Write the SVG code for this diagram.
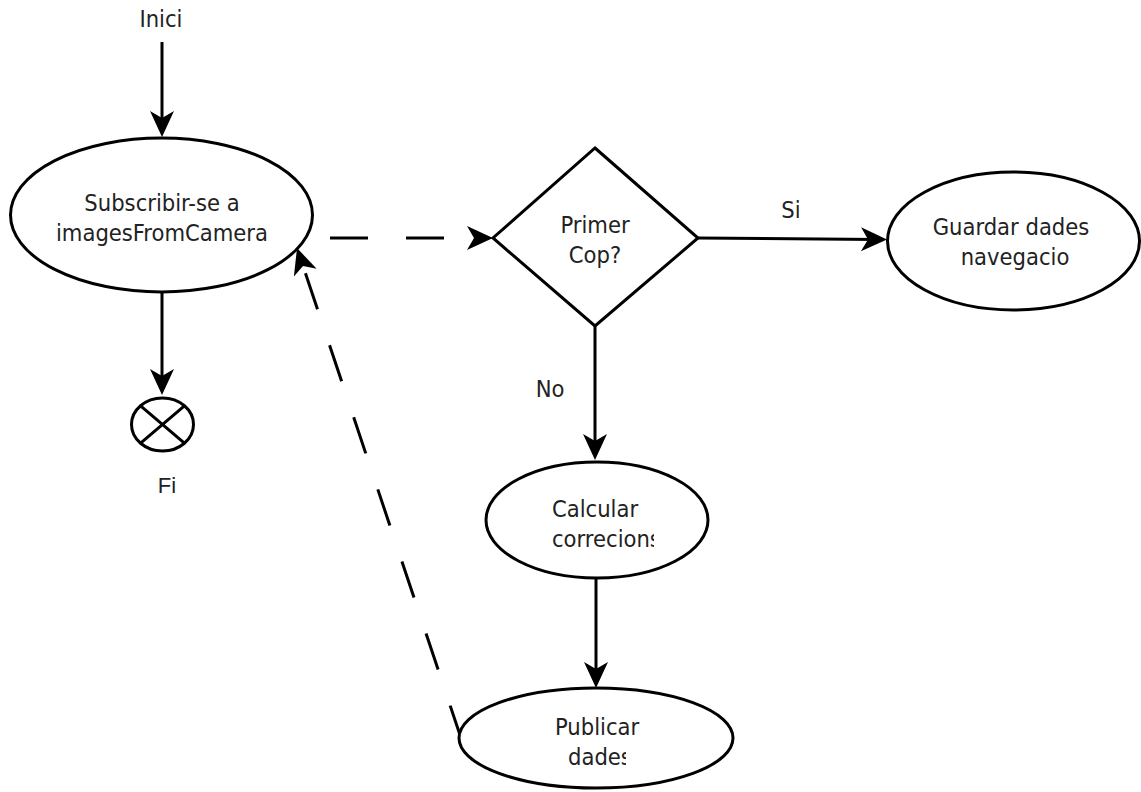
<svg xmlns="http://www.w3.org/2000/svg" width="1141" height="792" viewBox="0 0 1141 792">
  <style>
    .shape { fill: #ffffff; stroke: #000000; stroke-width: 3; }
    .edge { fill: none; stroke: #000000; stroke-width: 3; }
    .dashed { stroke-dasharray: 38 38; }
    .label { font-family: "DejaVu Sans Condensed", "DejaVu Sans", Verdana, sans-serif; font-stretch: condensed; font-size: 23.5px; fill: #222222; text-anchor: middle; }
    .start { text-anchor: start; }
    .fi { font-family: "Liberation Sans", Arial, sans-serif; font-size: 22px; fill: #222222; text-anchor: middle; }
  </style>
  <defs>
    <marker id="arrow" markerUnits="userSpaceOnUse" viewBox="-28 -14 30 28" markerWidth="30" markerHeight="28" refX="-10" refY="0" orient="auto">
      <path d="M0,0 L-26,-12 L-19,0 L-26,12 Z" fill="#000000"/>
    </marker>
    <clipPath id="clip-correcions"><rect x="480" y="525" width="174" height="40"/></clipPath>
    <clipPath id="clip-dades"><rect x="460" y="743" width="166" height="40"/></clipPath>
  </defs>

  <!-- connectors -->
  <g id="connectors">
    <path class="edge" d="M162,42 V127" marker-end="url(#arrow)"/>
    <path class="edge" d="M162,293 V385" marker-end="url(#arrow)"/>
    <path class="edge dashed" d="M330,238 H483" marker-end="url(#arrow)"/>
    <path class="edge" d="M698,238 L877,239.5" marker-end="url(#arrow)"/>
    <path class="edge" d="M595,326 V450" marker-end="url(#arrow)"/>
    <path class="edge" d="M596,578 V678" marker-end="url(#arrow)"/>
    <path class="edge dashed" stroke-dashoffset="7" d="M460,735 L300.2,257.5" marker-end="url(#arrow)"/>
    <text class="label" x="791" y="218">Si</text>
    <text class="label" x="550" y="397">No</text>
  </g>

  <!-- start label -->
  <g id="inici">
    <text class="label" x="161" y="27">Inici</text>
  </g>

  <g id="subscribir">
    <ellipse class="shape" cx="161.5" cy="215" rx="151" ry="77"/>
    <text class="label" x="162" y="211">Subscribir-se a</text>
    <text class="label" x="162" y="241">imagesFromCamera</text>
  </g>

  <g id="fi">
    <ellipse class="shape" cx="162.5" cy="424.5" rx="31" ry="26.5"/>
    <path class="edge" d="M140.6,405.8 L184.4,443.2 M184.4,405.8 L140.6,443.2"/>
    <text class="fi" x="167" y="493">Fi</text>
  </g>

  <g id="primer-cop">
    <polygon class="shape" points="595,148 698,238 595,326 493,238"/>
    <text class="label" x="595" y="233">Primer</text>
    <text class="label" x="595" y="263">Cop?</text>
  </g>

  <g id="guardar">
    <ellipse class="shape" cx="1013.5" cy="241" rx="126" ry="69"/>
    <text class="label" x="1011" y="235">Guardar dades</text>
    <text class="label" x="1015" y="265">navegacio</text>
  </g>

  <g id="calcular">
    <ellipse class="shape" cx="597" cy="520" rx="111" ry="58"/>
    <text class="label start" x="552" y="517">Calcular</text>
    <text class="label start" x="552" y="547" clip-path="url(#clip-correcions)">correcions</text>
  </g>

  <g id="publicar">
    <ellipse class="shape" cx="596" cy="738" rx="137" ry="50"/>
    <text class="label start" x="555" y="735">Publicar</text>
    <text class="label start" x="568" y="765" clip-path="url(#clip-dades)">dades</text>
  </g>
</svg>
